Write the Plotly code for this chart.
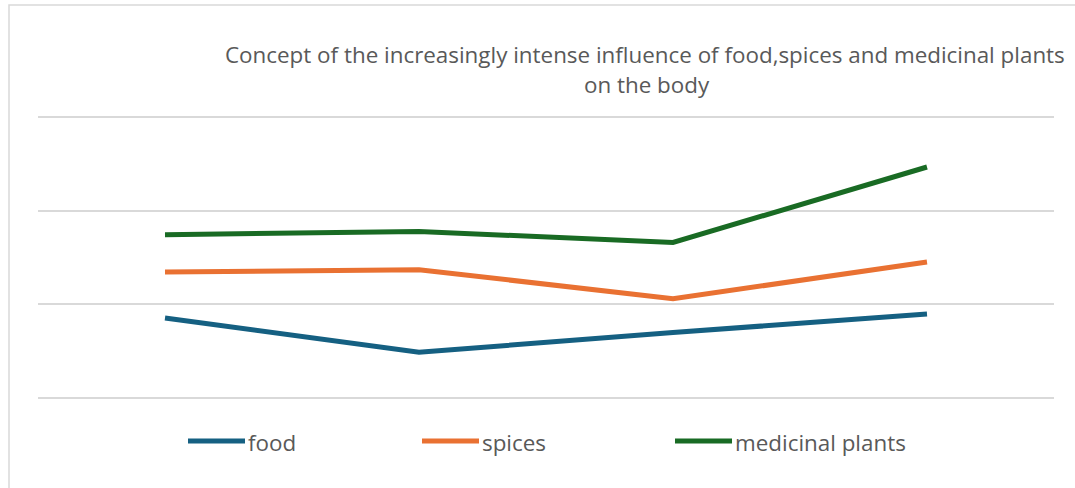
import plotly.graph_objects as go

categories = ["1", "2", "3", "4"]
series_names = ["food", "spices", "medicinal plants"]
food = [0.855, 0.49, 0.70, 0.898]
spices = [1.345, 1.37, 1.06, 1.452]
medicinal = [1.743, 1.778, 1.66, 2.465]
colors = ["#156082", "#e97132", "#196b24"]

title_line1 = "Concept of the increasingly intense influence of food,spices and medicinal plants"
title_line2 = "on the body"

FONT = "Open Sans"
GRAY = "#595959"
FS = 22.4

fig = go.Figure()
for name, vals, col in zip(series_names, [food, spices, medicinal], colors):
    fig.add_trace(go.Scatter(x=categories, y=vals, name=name, mode="lines",
                             line=dict(color=col, width=5), showlegend=False))

W, H = 1075, 488
ml, mr, mt, mb = 38, 21, 114, 87
pw = W - ml - mr
ph = H - mt - mb

def px(x):
    return (x - ml) / pw

def py(y):
    return (H - mb - y) / ph

shapes = []
annotations = []
# chart border
shapes.append(dict(type="rect", xref="paper", yref="paper",
                   x0=px(9), x1=px(1200), y0=py(700), y1=py(5),
                   line=dict(color="#d9d9d9", width=1.5), fillcolor="rgba(0,0,0,0)", layer="below"))
# manual legend
leg_x = [188, 422, 675]
for name, col, lx in zip(series_names, colors, leg_x):
    shapes.append(dict(type="line", xref="paper", yref="paper",
                       x0=px(lx), x1=px(lx + 57), y0=py(441), y1=py(441),
                       line=dict(color=col, width=5)))
    annotations.append(dict(text=name, xref="paper", yref="paper",
                            x=px(lx + 58), y=py(442), xanchor="left", yanchor="middle",
                            showarrow=False, font=dict(family=FONT, size=FS, color=GRAY)))

annotations.append(dict(text=title_line1, xref="paper", yref="paper",
                        x=px(645), y=py(55), xanchor="center", yanchor="middle",
                        showarrow=False, font=dict(family=FONT, size=FS, color=GRAY)))
annotations.append(dict(text=title_line2, xref="paper", yref="paper",
                        x=px(647), y=py(85), xanchor="center", yanchor="middle",
                        showarrow=False, font=dict(family=FONT, size=FS, color=GRAY)))

fig.update_layout(
    width=W, height=H,
    margin=dict(l=ml, r=mr, t=mt, b=mb),
    paper_bgcolor="white", plot_bgcolor="white",
    shapes=shapes, annotations=annotations,
    xaxis=dict(type="category", range=[-0.5, 3.5], showticklabels=False,
               showgrid=False, zeroline=False, showline=False, ticks=""),
    yaxis=dict(range=[-0.03, 3.03], tickvals=[0, 1, 2, 3], showticklabels=False, showgrid=True,
               gridcolor="#d9d9d9", gridwidth=1.5, zeroline=False, showline=False, ticks=""),
    font=dict(family=FONT, color=GRAY),
)
fig.write_html("out.html")
